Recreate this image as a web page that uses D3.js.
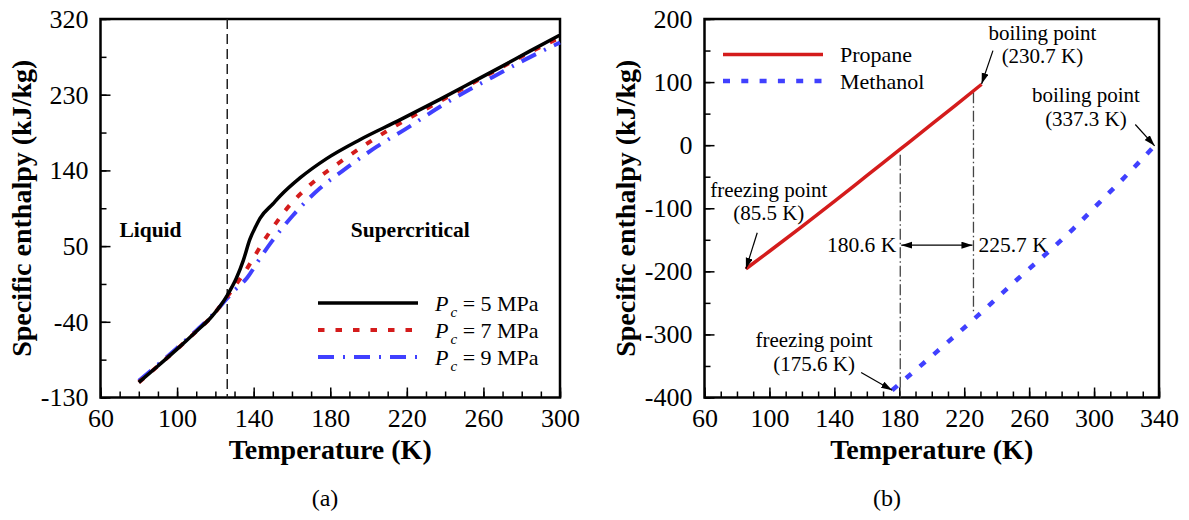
<!DOCTYPE html>
<html>
<head>
<meta charset="utf-8">
<script src="https://cdnjs.cloudflare.com/ajax/libs/d3/7.8.5/d3.min.js"></script>
<style>
  body { margin: 0; background: #fff; }
  svg text { font-family: "Liberation Serif", "Times New Roman", serif !important; fill: #000; }
</style>
</head>
<body>
<svg id="chart" width="1189" height="520" font-family="Liberation Serif, serif"></svg>
<script>
// Panel (a): specific enthalpy vs temperature at three pressures
const tempsP5 = [80, 90, 100, 110, 118, 126.2, 131, 134.6, 138, 141, 143.3, 150, 153.8, 164.2, 178.1, 195.5, 216.4, 237.3, 254.7, 268.7, 284, 300];
const enthP5  = [-112, -92.5, -72.5, -51.5, -34, -8.5, 12, 33, 58, 73, 83, 100, 109.5, 131, 154, 176.5, 200, 224.5, 245.5, 262.5, 281.5, 301];
const tempsP7 = [80, 90, 100, 110, 118, 126.2, 129.4, 135.5, 139.8, 145, 150, 156.4, 169.4, 184.2, 199.9, 216.4, 233.8, 249.5, 266.9, 283, 300];
const enthP7  = [-112, -92.5, -72.5, -51.5, -34, -10, 0, 19.6, 35.5, 55, 72, 92, 122.6, 148.4, 172.9, 196, 217.8, 237.6, 259.4, 279, 298];
const tempsP9 = [80, 90, 100, 110, 118, 126.2, 129.4, 136.4, 143.3, 149.4, 155.5, 160.7, 174.6, 189.4, 204.3, 219.9, 237.3, 253, 265.2, 282, 300];
const enthP9  = [-110, -91, -71, -50.5, -33, -12, -4, 11.7, 35.5, 55.3, 73, 87, 118.7, 144.4, 168.2, 190, 215.7, 236.4, 251.4, 272, 292];
const pressures = [5, 7, 9];
const tCritical = 126.2;

const xTicksA = [60, 100, 140, 180, 220, 260, 300];
const yTicksA = [-130, -40, 50, 140, 230, 320];

// Panel (b): propane and methanol liquid ranges
const propaneT = [85.5, 100, 120, 140, 160, 180.6, 200, 215, 230.7];
const propaneH = [-196, -168.2, -129.2, -89.2, -48.4, -6.4, 33.2, 64, 96.5];
const methanolT = [175.6, 203, 228.7, 253.3, 270.8, 287.2, 303.7, 320.1, 337.3];
const methanolH = [-388.4, -327.7, -269.5, -211.3, -171.5, -132.5, -89.8, -47.4, -1];
const fluidNames = ["Propane", "Methanol"];
const overlapRange = [180.6, 225.7];

const xTicksB = [60, 100, 140, 180, 220, 260, 300, 340];
const yTicksB = [-400, -300, -200, -100, 0, 100, 200];

const svg = d3.select("#chart");

const defs = svg.append("defs");
defs.append("marker")
    .attr("id", "head")
    .attr("markerUnits", "userSpaceOnUse")
    .attr("markerWidth", 12)
    .attr("markerHeight", 8)
    .attr("refX", 11)
    .attr("refY", 3.5)
    .attr("orient", "auto-start-reverse")
    .append("path")
    .attr("d", "M0,0 L11,3.5 L0,7 Z")
    .attr("fill", "#000");

// Builds one framed panel with inward ticks, returns its scales
function drawPanel(box, xDomain, yDomain, xMajor, yMajor, xStep, yStep, yTitleX) {
    const x = d3.scaleLinear().domain(xDomain).range([box.x0, box.x1]);
    const y = d3.scaleLinear().domain(yDomain).range([box.y1, box.y0]);

    const xMinor = d3.range(xDomain[0], xDomain[1] + 0.01, xStep);
    const yMinor = d3.range(yDomain[0], yDomain[1] + 0.01, yStep);

    // minor ticks
    svg.append("g")
        .attr("transform", `translate(0,${box.y1})`)
        .call(d3.axisBottom(x).tickValues(xMinor).tickSize(-6).tickFormat(""))
        .call(g => g.select(".domain").remove());
    svg.append("g")
        .attr("transform", `translate(${box.x0},0)`)
        .call(d3.axisLeft(y).tickValues(yMinor).tickSize(-6).tickFormat(""))
        .call(g => g.select(".domain").remove());

    // major ticks with labels
    svg.append("g")
        .attr("transform", `translate(0,${box.y1})`)
        .call(d3.axisBottom(x).tickValues(xMajor).tickSize(-10).tickPadding(11).tickFormat(d => String(d)))
        .call(g => g.select(".domain").remove())
        .attr("font-family", null)
        .attr("font-size", 26);
    svg.append("g")
        .attr("transform", `translate(${box.x0},0)`)
        .call(d3.axisLeft(y).tickValues(yMajor).tickSize(-10).tickPadding(12).tickFormat(d => String(d)))
        .call(g => g.select(".domain").remove())
        .attr("font-family", null)
        .attr("font-size", 26);

    svg.selectAll(".tick line").attr("stroke-width", 1.5);

    // frame
    svg.append("rect")
        .attr("x", box.x0)
        .attr("y", box.y0)
        .attr("width", box.x1 - box.x0)
        .attr("height", box.y1 - box.y0)
        .attr("fill", "none")
        .attr("stroke", "#000")
        .attr("stroke-width", 2.5);

    // axis titles
    svg.append("text")
        .attr("x", (box.x0 + box.x1) / 2)
        .attr("y", 459)
        .attr("text-anchor", "middle")
        .attr("font-size", 28)
        .attr("font-weight", "bold")
        .text("Temperature (K)");
    svg.append("text")
        .attr("transform", `translate(${yTitleX},${(box.y0 + box.y1) / 2}) rotate(-90)`)
        .attr("text-anchor", "middle")
        .attr("font-size", 28)
        .attr("font-weight", "bold")
        .text("Specific enthalpy (kJ/kg)");

    return { x, y };
}

// ---------- Panel (a) ----------
const boxA = { x0: 100.5, x1: 560, y0: 19, y1: 397.5 };
const a = drawPanel(boxA, [60, 300], [-130, 320], xTicksA, yTicksA, 10, 45, 31);

const seriesA = [
    { p: pressures[0], t: tempsP5, h: enthP5, color: "#000000", width: 3.5, dash: null },
    { p: pressures[1], t: tempsP7, h: enthP7, color: "#d41c1c", width: 4, dash: "6.5,11" },
    { p: pressures[2], t: tempsP9, h: enthP9, color: "#4040ff", width: 4, dash: "16,9,2,9" }
];

const lineA = d3.line()
    .x(d => a.x(d[0]))
    .y(d => a.y(d[1]))
    .curve(d3.curveMonotoneX);

// critical temperature marker
svg.append("line")
    .attr("x1", a.x(tCritical)).attr("x2", a.x(tCritical))
    .attr("y1", a.y(320)).attr("y2", a.y(-130))
    .attr("stroke", "#222")
    .attr("stroke-width", 1.5)
    .attr("stroke-dasharray", "10,5");

// draw blue first, black on top
seriesA.slice().reverse().forEach(s => {
    svg.append("path")
        .datum(d3.zip(s.t, s.h))
        .attr("d", lineA)
        .attr("fill", "none")
        .attr("stroke", s.color)
        .attr("stroke-width", s.width)
        .attr("stroke-dasharray", s.dash);
});

svg.append("text")
    .attr("x", a.x(86.1)).attr("y", a.y(60.5))
    .attr("text-anchor", "middle")
    .attr("font-size", 21.5).attr("font-weight", "bold")
    .text("Liquid");
svg.append("text")
    .attr("x", a.x(221.8)).attr("y", a.y(61))
    .attr("text-anchor", "middle")
    .attr("font-size", 21.5).attr("font-weight", "bold")
    .text("Supercritical");

// legend (a)
const legA = svg.append("g").attr("transform", "translate(318,303)");
seriesA.forEach((s, i) => {
    legA.append("line")
        .attr("x1", 0).attr("x2", 100)
        .attr("y1", i * 27).attr("y2", i * 27)
        .attr("stroke", s.color)
        .attr("stroke-width", s.width)
        .attr("stroke-dasharray", s.dash);
    const t = legA.append("text")
        .attr("x", 117).attr("y", i * 27 + 7.5)
        .attr("font-size", 22);
    t.append("tspan").attr("font-style", "italic").text("P");
    t.append("tspan").attr("font-style", "italic").attr("font-size", 15).attr("dx", 2).attr("dy", 6).text("c");
    t.append("tspan").attr("dy", -6).text(` = ${s.p} MPa`);
});

svg.append("text")
    .attr("x", 325).attr("y", 506)
    .attr("text-anchor", "middle")
    .attr("font-size", 24)
    .text("(a)");

// ---------- Panel (b) ----------
const boxB = { x0: 704.5, x1: 1159, y0: 19, y1: 397.5 };
const b = drawPanel(boxB, [60, 340], [-400, 200], xTicksB, yTicksB, 10, 50, 635);

const lineB = d3.line()
    .x(d => b.x(d[0]))
    .y(d => b.y(d[1]))
    .curve(d3.curveMonotoneX);

// overlap markers
const guideEnds = [[-15, -400], [84, -268]];
overlapRange.forEach((tv, i) => {
    svg.append("line")
        .attr("x1", b.x(tv)).attr("x2", b.x(tv))
        .attr("y1", b.y(guideEnds[i][0])).attr("y2", b.y(guideEnds[i][1]))
        .attr("stroke", "#444")
        .attr("stroke-width", 1.3)
        .attr("stroke-dasharray", "11,3,1.5,3");
});
svg.append("line")
    .attr("x1", b.x(overlapRange[0]) + 1).attr("x2", b.x(overlapRange[1]) - 1)
    .attr("y1", b.y(-158.5)).attr("y2", b.y(-158.5))
    .attr("stroke", "#000").attr("stroke-width", 1.2)
    .attr("marker-start", "url(#head)")
    .attr("marker-end", "url(#head)");
svg.append("text")
    .attr("x", b.x(overlapRange[0]) - 4).attr("y", b.y(-169))
    .attr("text-anchor", "end").attr("font-size", 21.5)
    .text(overlapRange[0] + " K");
svg.append("text")
    .attr("x", b.x(overlapRange[1]) + 5).attr("y", b.y(-169))
    .attr("text-anchor", "start").attr("font-size", 21.5)
    .text(overlapRange[1] + " K");

const seriesB = [
    { name: fluidNames[0], t: propaneT, h: propaneH, color: "#d41c1c", width: 3.5, dash: null },
    { name: fluidNames[1], t: methanolT, h: methanolH, color: "#4040ff", width: 4.5, dash: "7,11.3" }
];
seriesB.forEach(s => {
    svg.append("path")
        .datum(d3.zip(s.t, s.h))
        .attr("d", lineB)
        .attr("fill", "none")
        .attr("stroke", s.color)
        .attr("stroke-width", s.width)
        .attr("stroke-dasharray", s.dash);
});

// phase-point annotations: label lines and arrow from -> to
const notes = [
    { lines: ["boiling point", "(230.7 K)"], at: [268.2, 167.5], from: [237.7, 149.9], to: [230.7, 97] },
    { lines: ["boiling point", "(337.3 K)"], at: [295, 68], from: [325.4, 32.8], to: [337.3, -1] },
    { lines: ["freezing point", "(85.5 K)"], at: [99.6, -81.5], from: [92.5, -138.9], to: [85.5, -196] },
    { lines: ["freezing point", "(175.6 K)"], at: [127.5, -320.5], from: [156.5, -360.5], to: [175.6, -388.4] }
];
const noteGap = 37; // in data units, about 23 px
notes.forEach(n => {
    n.lines.forEach((txt, i) => {
        svg.append("text")
            .attr("x", b.x(n.at[0]))
            .attr("y", b.y(n.at[1] - i * noteGap))
            .attr("text-anchor", "middle")
            .attr("font-size", 21)
            .text(txt);
    });
    svg.append("line")
        .attr("x1", b.x(n.from[0])).attr("y1", b.y(n.from[1]))
        .attr("x2", b.x(n.to[0])).attr("y2", b.y(n.to[1]))
        .attr("stroke", "#000").attr("stroke-width", 1.2)
        .attr("marker-end", "url(#head)");
});

// legend (b)
const legB = svg.append("g").attr("transform", "translate(723,54.5)");
seriesB.forEach((s, i) => {
    legB.append("line")
        .attr("x1", 0).attr("x2", 100)
        .attr("y1", i * 26.5).attr("y2", i * 26.5)
        .attr("stroke", s.color)
        .attr("stroke-width", s.width)
        .attr("stroke-dasharray", s.dash);
    legB.append("text")
        .attr("x", 117).attr("y", i * 26.5 + 7.5)
        .attr("font-size", 22)
        .text(s.name);
});

svg.append("text")
    .attr("x", 887).attr("y", 506)
    .attr("text-anchor", "middle")
    .attr("font-size", 24)
    .text("(b)");
</script>
</body>
</html>
